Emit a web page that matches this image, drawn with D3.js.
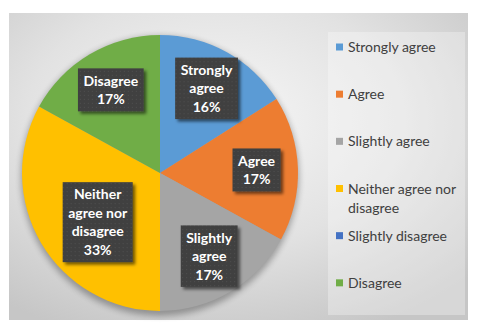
<!DOCTYPE html>
<html>
<head>
<meta charset="utf-8">
<script src="https://cdn.jsdelivr.net/npm/d3@7"></script>
<style>
  body { margin: 0; background: #fff; }
  svg { display: block; font-family: Lato, "Open Sans", sans-serif; }
</style>
</head>
<body>
<svg id="chart" width="480" height="332"></svg>
<script>
// survey answers, in slice order (clockwise from 12 o'clock)
const categories = ["Strongly agree", "Agree", "Slightly agree", "Neither agree nor disagree", "Slightly disagree", "Disagree"]
const shares = [16, 17, 17, 33, 0, 17]
const colors = ["#5B9BD5", "#ED7D31", "#A5A5A5", "#FFC000", "#4472C4", "#70AD47"]

const data = categories.map((name, i) => ({name, value: shares[i], color: colors[i]}))

const svg = d3.select("#chart")
const frame = {x: 9, y: 13, w: 459, h: 307}
const cx = 160, cy = 173, radius = 138

// greedy word wrap by character count (Excel-ish)
function wrap(text, maxChars) {
  const lines = []
  let line = ""
  for (const w of text.split(" ")) {
    if (line && (line + " " + w).length > maxChars) { lines.push(line); line = w }
    else line = line ? line + " " + w : w
  }
  if (line) lines.push(line)
  return lines
}

///// DEFS /////
const defs = svg.append("defs")

const bg = defs.append("radialGradient").attr("id", "bg")
  .attr("cx", "45%").attr("cy", "35%").attr("r", "75%")
bg.append("stop").attr("offset", "0%").attr("stop-color", "#f7f7f7")
bg.append("stop").attr("offset", "55%").attr("stop-color", "#e2e2e2")
bg.append("stop").attr("offset", "100%").attr("stop-color", "#c6c6c6")

const pat = defs.append("pattern").attr("id", "dots")
  .attr("width", 4).attr("height", 4).attr("patternUnits", "userSpaceOnUse")
pat.append("rect").attr("width", 4).attr("height", 4).attr("fill", "#404040")
pat.append("rect").attr("x", 1).attr("y", 1).attr("width", 1).attr("height", 1).attr("fill", "#515151")

const boxShadow = defs.append("filter").attr("id", "boxShadow")
  .attr("x", "-20%").attr("y", "-20%").attr("width", "150%").attr("height", "150%")
boxShadow.append("feDropShadow").attr("dx", 2.5).attr("dy", 2.5)
  .attr("stdDeviation", 1.6).attr("flood-color", "#000").attr("flood-opacity", 0.55)

const pieShadow = defs.append("filter").attr("id", "pieShadow")
  .attr("x", "-10%").attr("y", "-10%").attr("width", "120%").attr("height", "125%")
pieShadow.append("feGaussianBlur").attr("stdDeviation", 3)

///// BACKGROUND /////
svg.append("rect")
  .attr("x", frame.x).attr("y", frame.y)
  .attr("width", frame.w).attr("height", frame.h)
  .attr("fill", "url(#bg)")

///// PIE /////
const pie = d3.pie().sort(null).value(d => d.value)
const arc = d3.arc().innerRadius(0).outerRadius(radius)
const arcs = pie(data)

const g = svg.append("g").attr("transform", `translate(${cx},${cy})`)

g.append("ellipse")
  .attr("cx", 0).attr("cy", 3).attr("rx", radius + 1).attr("ry", radius + 2)
  .attr("fill", "#000").attr("opacity", 0.3)
  .attr("filter", "url(#pieShadow)")

g.selectAll("path.slice")
  .data(arcs)
  .join("path")
    .attr("class", "slice")
    .attr("d", arc)
    .attr("fill", d => d.data.color)

///// DATA LABELS /////
const lineH = 18.5
const labelArc = d3.arc().innerRadius(radius * 0.7).outerRadius(radius * 0.7)

const labels = g.selectAll("g.label")
  .data(arcs.filter(d => d.data.value > 0))
  .join("g")
    .attr("class", "label")

labels.each(function(d) {
  const el = d3.select(this)
  const lines = wrap(d.data.name, 9).concat(`${d.data.value}%`)
  const box = el.append("rect").attr("fill", "url(#dots)").attr("filter", "url(#boxShadow)")
  const text = el.append("text")
    .attr("fill", "#fff")
    .attr("font-weight", "bold")
    .attr("font-size", 14)
    .attr("text-anchor", "middle")
  lines.forEach((l, i) => {
    text.append("tspan").attr("x", 0).attr("y", (i - (lines.length - 1) / 2) * lineH + 5).text(l)
  })
  const w = d3.max(text.selectAll("tspan").nodes(), n => n.getComputedTextLength()) + 11
  const h = lines.length * lineH + 6
  box.attr("x", -w / 2).attr("y", -h / 2).attr("width", w).attr("height", h)

  // centroid; if the box sticks well out of the pie, pull it in sideways
  let [x, y] = labelArc.centroid(d)
  const farX = Math.abs(x) + w / 2, farY = Math.abs(y) + h / 2
  if (Math.hypot(farX, farY) > radius + 2) {
    const lim = radius - 6
    const maxX = Math.sqrt(Math.max(0, lim * lim - farY * farY))
    x = Math.sign(x) * Math.max(0, maxX - w / 2)
  }
  el.attr("transform", `translate(${x},${y})`)
})

///// LEGEND /////
const legend = {x: 328, y: 32, w: 137, h: 283}
svg.append("rect")
  .attr("x", legend.x).attr("y", legend.y)
  .attr("width", legend.w).attr("height", legend.h)
  .attr("fill", "#fff").attr("opacity", 0.3)

const slot = d3.scaleBand().domain(categories).range([legend.y, legend.y + legend.h])

const items = svg.append("g").selectAll("g.item")
  .data(data)
  .join("g")
    .attr("class", "item")
    .attr("transform", d => `translate(${legend.x + 8},${slot(d.name) + 15})`)

items.append("rect")
  .attr("x", 0).attr("y", -3.5)
  .attr("width", 7).attr("height", 7)
  .attr("fill", d => d.color)

items.append("text")
  .attr("fill", "#404040")
  .attr("font-size", 14)
  .selectAll("tspan")
  .data(d => wrap(d.name, 17))
  .join("tspan")
    .attr("x", 12)
    .attr("y", (_, i) => i * 19 + 5)
    .text(l => l)
</script>
</body>
</html>
